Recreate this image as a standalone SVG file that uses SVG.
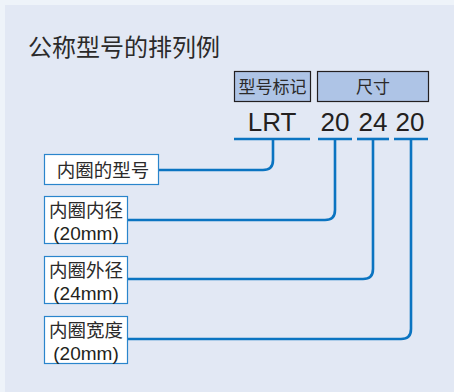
<svg xmlns="http://www.w3.org/2000/svg" width="454" height="392" viewBox="0 0 454 392">
<style>
.t{font-family:"Noto Sans CJK SC","Liberation Sans",sans-serif;fill:#2b2a2a}
.hd{fill:#aec4e6;stroke:#231f20;stroke-width:1.2}
.bx{fill:#ffffff;stroke:#2a85cc;stroke-width:1.2}
.ln{fill:none;stroke:#0b74c1;stroke-width:2.6}
.code{font-family:"Liberation Sans",Arial,sans-serif;font-size:26px;fill:#231f20}
.lab{font-size:18.5px}
.num{font-family:"Liberation Sans",Arial,sans-serif;font-size:19px;fill:#231f20}
</style>
<rect x="0" y="0" width="454" height="392" fill="#eef3f9"/>
<rect x="5" y="5" width="449" height="387" fill="#e2e8f4"/>
<text class="t" x="28" y="56" font-size="24">公称型号的排列例</text>
<g id="hdr-model">
<rect class="hd" x="234.5" y="71.5" width="76" height="30"/>
<text class="t" x="272.5" y="93" font-size="17" text-anchor="middle">型号标记</text>
</g>
<g id="hdr-size">
<rect class="hd" x="317.5" y="71.5" width="111" height="30"/>
<text class="t" x="373" y="93" font-size="17" text-anchor="middle">尺寸</text>
</g>
<g id="codes">
<text class="code" x="272" y="131" text-anchor="middle">LRT</text>
<text class="code" x="335" y="131" text-anchor="middle">20</text>
<text class="code" x="373" y="131" text-anchor="middle">24</text>
<text class="code" x="410" y="131" text-anchor="middle">20</text>
</g>
<g id="connectors">
<line class="ln" x1="234" y1="139" x2="310" y2="139"/>
<line class="ln" x1="318" y1="139" x2="352" y2="139"/>
<line class="ln" x1="357" y1="139" x2="389" y2="139"/>
<line class="ln" x1="394" y1="139" x2="428" y2="139"/>
<path class="ln" d="M273 139 V160 Q273 170 263 170 H159"/>
<path class="ln" d="M335 139 V210 Q335 220 325 220 H128"/>
<path class="ln" d="M373 139 V269 Q373 279 363 279 H128"/>
<path class="ln" d="M411 139 V329 Q411 339 401 339 H128"/>
</g>
<g id="n1">
<rect class="bx" x="44.5" y="154.5" width="114" height="30"/>
<text class="t lab" x="103" y="177" text-anchor="middle">内圈的型号</text>
</g>
<g id="n2">
<rect class="bx" x="44.5" y="196.5" width="83" height="47"/>
<text class="t lab" x="86" y="217" text-anchor="middle">内圈内径</text>
<text class="num" x="86" y="240" text-anchor="middle">(20mm)</text>
</g>
<g id="n3">
<rect class="bx" x="44.5" y="256.5" width="83" height="47"/>
<text class="t lab" x="86" y="277" text-anchor="middle">内圈外径</text>
<text class="num" x="86" y="300" text-anchor="middle">(24mm)</text>
</g>
<g id="n4">
<rect class="bx" x="44.5" y="316.5" width="83" height="47"/>
<text class="t lab" x="86" y="337" text-anchor="middle">内圈宽度</text>
<text class="num" x="86" y="360" text-anchor="middle">(20mm)</text>
</g>
</svg>
